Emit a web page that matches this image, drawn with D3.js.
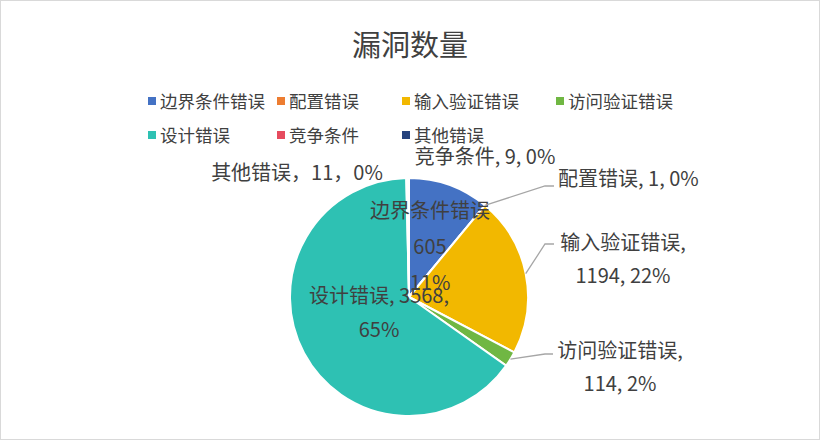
<!DOCTYPE html>
<html><head><meta charset="utf-8">
<script src="https://cdn.jsdelivr.net/npm/d3@7/dist/d3.min.js"></script>
<style>
html,body{margin:0;padding:0;background:#fff;}
text{font-family:"Microsoft YaHei","Noto Sans CJK SC",sans-serif;}
</style></head>
<body>
<svg id="chart" width="820" height="440"></svg>
<script>
const title = "漏洞数量";
const categories = ["边界条件错误","配置错误","输入验证错误","访问验证错误","设计错误","竞争条件","其他错误"];
const values = [605, 1, 1194, 114, 3568, 9, 11];
const colors = ["#4472C4","#ED7D31","#F2B800","#70B743","#2EC1B3","#E64B5E","#25437E"];

const svg = d3.select("#chart");
svg.append("rect").attr("x",0.5).attr("y",0.5).attr("width",819).attr("height",439)
  .attr("fill","#fff").attr("stroke","#d9d9d9");

svg.append("text").attr("x",410).attr("y",56).attr("text-anchor","middle")
  .attr("font-size",29).attr("fill","#404040").text(title);

// legend
const legCols = [148, 277, 402, 556];
categories.forEach((c,i)=>{
  const row = i < 4 ? 0 : 1;
  const col = i < 4 ? i : i - 4;
  const x = legCols[col], y = row ? 135 : 101;
  const g = svg.append("g").attr("transform",`translate(${x},${y})`);
  g.append("rect").attr("x",0).attr("y",-4).attr("width",8).attr("height",8).attr("fill",colors[i]);
  g.append("text").attr("x",12).attr("y",6.5).attr("font-size",17.5).attr("fill","#404040").text(c);
});

const cx = 409, cy = 297, R = 119;
const total = d3.sum(values);
const pie = d3.pie().sort(null).value(d=>d)(values);
const arc = d3.arc().innerRadius(0).outerRadius(R);
const gp = svg.append("g").attr("transform",`translate(${cx},${cy})`);
gp.selectAll("path").data(pie).join("path")
  .attr("d",arc).attr("fill",(d,i)=>colors[i]).attr("stroke","#fff").attr("stroke-width",2);

const pct = v => Math.round(v/total*100) + "%";
// label layout per slice: lines, anchor x, first baseline y, optional leader
const labelCfg = [
  {lines:[categories[0], String(values[0]), pct(values[0])], x:430, y:218, dy:36, anchor:"middle"},
  {lines:[`${categories[1]}, ${values[1]}, ${pct(values[1])}`], x:558, y:186, anchor:"start", leader:[[545,186],[554,186]]},
  {lines:[`${categories[2]},`, `${values[2]}, ${pct(values[2])}`], x:623, y:250, dy:33, anchor:"middle", leader:[[545,244],[554,244]]},
  {lines:[`${categories[3]},`, `${values[3]}, ${pct(values[3])}`], x:620, y:358, dy:33, anchor:"middle", leader:[[545,354],[553,354]]},
  {lines:[`${categories[4]}, ${values[4]},`, pct(values[4])], x:379, y:303, dy:34, anchor:"middle"},
  {lines:[`${categories[5]}, ${values[5]}, ${pct(values[5])}`], x:485, y:164, anchor:"middle"},
  {lines:[`${categories[6]}，${values[6]}，${pct(values[6])}`], x:297, y:180, anchor:"middle"}
];
pie.forEach((d,i)=>{
  const cfg = labelCfg[i];
  if (cfg.leader) {
    const a = (d.startAngle + d.endAngle)/2;
    const p0 = [cx + R*Math.sin(a), cy - R*Math.cos(a)];
    svg.append("polyline").attr("points",[p0].concat(cfg.leader).map(p=>p.join(",")).join(" "))
      .attr("fill","none").attr("stroke","#a6a6a6").attr("stroke-width",1.3);
  }
  const t = svg.append("text").attr("font-size",20).attr("fill","#404040").attr("text-anchor",cfg.anchor);
  cfg.lines.forEach((l,k)=>{
    t.append("tspan").attr("x",cfg.x).attr("y",cfg.y + k*(cfg.dy||0)).text(l);
  });
});
</script>
</body></html>
